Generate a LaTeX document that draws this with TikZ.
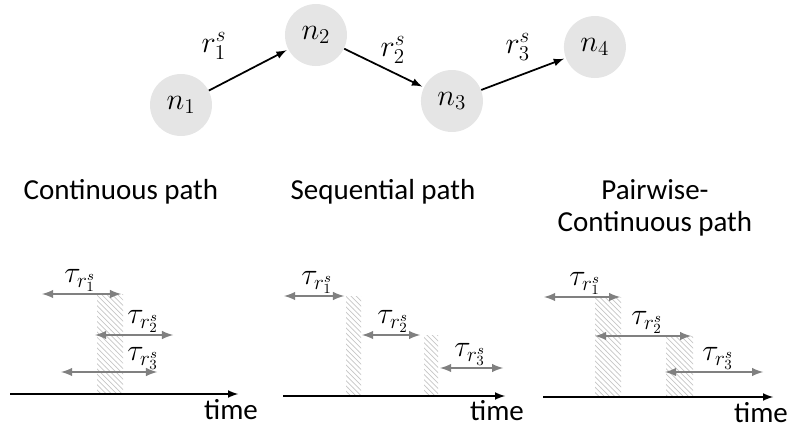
\documentclass[tikz,border=0pt]{standalone}
\usepackage{fontspec}
\setmainfont{Carlito}
\usepackage{tikz}
\usetikzlibrary{arrows,positioning,patterns}

\tikzset{
	vertex/.style={circle, fill=gray!20, minimum size=1.24cm, inner sep=0pt, font=\fontsize{17}{19}\selectfont},
	span/.style={latex-latex, draw=gray, line width=1.2pt},
	hatch/.style={pattern=north west lines, pattern color=gray!45},
	timeaxis/.style={->, >=latex, line width=1pt},
	heading/.style={font=\fontsize{16.5}{18}\selectfont, align=center},
	tau/.style={inner sep=1pt, font=\fontsize{17}{19}\selectfont},
	timelabel/.style={font=\fontsize{16.5}{18}\selectfont, anchor=base},
}

\begin{document}
\begin{tikzpicture}[x=0.02cm, y=-0.02cm, shorten >=1pt, node distance=2cm, on grid, auto]
	\useasboundingbox (0,0) rectangle (789,430);

	% the route
	\node[vertex] 		(n_1) at (181,105) 			{$n_1$};
	\node[vertex] 		(n_2) [above right=1.4cm and 2.7cm of n_1] 	{$n_2$};
	\node[vertex] 		(n_3) [below right=1.32cm and 2.72cm of n_2] 	{$n_3$};
	\node[vertex] 		(n_4) [above right=1.08cm and 2.86cm of n_3] 	{$n_4$};

\path[->, >=latex, line width=1pt, font=\fontsize{17}{19}\selectfont]
	(n_1) 	edge 			node[anchor=center, xshift=-0.69cm, yshift=0.48cm] {$r_1^s$}	(n_2)
	(n_2)		edge				node[anchor=center, xshift=0.18cm, yshift=0.36cm] {$r_2^s$}	(n_3)
	(n_3)		edge				node[anchor=center, xshift=-0.11cm, yshift=0.54cm] {$r_3^s$}	(n_4)
;

	% headings
	\node[heading, anchor=base] (cont) at (121,199) {Continuous path};
	\node[heading, anchor=base] (seq) at (383,199) {Sequential path};
	\node[heading] (pair) at (655,208) {Pairwise-\\Continuous path};

	% overlaps
	\fill[hatch] (97,294) rectangle (123,394);
	\fill[hatch] (346,296) rectangle (361,396);
	\fill[hatch] (424,335) rectangle (438,396);
	\fill[hatch] (595,297) rectangle (621,397);
	\fill[hatch] (666,336) rectangle (693,397);

	% time axes
	\foreach \id/\xa/\xb/\yy/\lx/\ly in {ta/10/240/394/231/419, tb/283/507/396/497/420, tc/543/775/397/761/422}{
		\coordinate (\id s) at (\xa,\yy);
		\coordinate (\id e) at (\xb,\yy);
		\draw[timeaxis] (\id s) -- (\id e);
		\node[timelabel] (\id l) at (\lx,\ly) {time};
	}

	% travel times
	\foreach \id/\xa/\xb/\yy/\lx/\k in {a1/42/123/294/80/1, a2/95/175/335/143/2, a3/61/159/372/143/3,
		b1/284/346/296/317/1, b2/362/422/335/393/2, b3/440/505/368/470/3,
		c1/544/622/297/585/1, c2/595/693/336/647/2, c3/665/765/372/718/3}{
		\coordinate (\id s) at (\xa,\yy);
		\coordinate (\id e) at (\xb,\yy);
		\draw[span] (\id s) -- (\id e);
		\node[tau, anchor=south] (\id t) at (\lx,\yy) {$\tau_{r_\k^s}$};
	}
\end{tikzpicture}
\end{document}
